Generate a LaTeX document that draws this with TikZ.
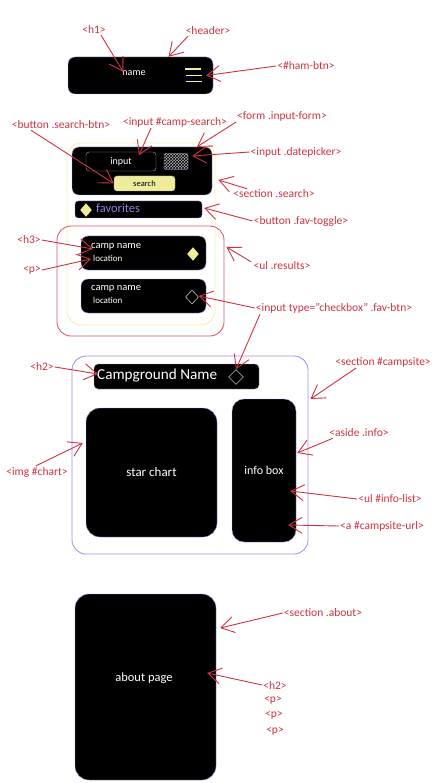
\documentclass[tikz,border=0pt]{standalone}
\usepackage{fontspec}
\setmainfont{Carlito}
\usepackage{xcolor}
\usetikzlibrary{shapes.geometric,arrows.meta,patterns}

\definecolor{tagred}{HTML}{CC3340}
\definecolor{edgepurple}{HTML}{A594E8}
\definecolor{lightyellow}{HTML}{EFEC9C}
\definecolor{paleyellow}{HTML}{F4F0B0}
\definecolor{favpurple}{HTML}{9080E0}

\begin{document}
\begin{tikzpicture}[x=1pt, y=-1pt,
    box/.style={draw=edgepurple, fill=black, rounded corners=7pt, inner sep=0pt, text=white, font=\fontsize{10}{12}\selectfont},
    outline/.style={draw=#1, rounded corners=14pt, inner sep=0pt, line width=0.9pt},
    word/.style={text=white, inner sep=0pt, anchor=west},
    tag/.style={text=tagred, inner sep=1pt, font=\fontsize{11.5}{13}\selectfont},
    arrow/.style={-{Straight Barb[length=13pt,width=16pt]}, draw=tagred, line width=0.9pt},
    hamline/.style={fill=lightyellow, inner sep=0pt, minimum width=16pt, minimum height=1.5pt},
    favon/.style={diamond, draw=lightyellow, fill=lightyellow, inner sep=0pt, minimum width=11pt, minimum height=13pt},
    favoff/.style={diamond, draw=white, inner sep=0pt, minimum width=13pt, minimum height=14pt}
]
\useasboundingbox (0,0) rectangle (435,783);

% Header
\node[box, minimum width=145pt, minimum height=37pt] (header) at (140.5,75.5) {};
\node[text=white, inner sep=0pt, font=\fontsize{10}{12}\selectfont] (name) at (134,73.5) {name};
\node[hamline] (hamtop) at (193,69) {};
\node[hamline] (hammid) at (194,75.5) {};
\node[hamline] (hambot) at (194,81.5) {};

% Search section
\node[outline=paleyellow, minimum width=148pt, minimum height=182pt] (search) at (141,234) {};
\node[box, minimum width=140pt, minimum height=48pt] (form) at (142,171) {};
\node[box, draw=gray!70, rounded corners=3pt, minimum width=70pt, minimum height=19pt] (input) at (121,161.5) {input};
\node[draw=edgepurple, preaction={fill=gray!65}, pattern=crosshatch, pattern color=black, inner sep=0pt, rounded corners=2pt, minimum width=24pt, minimum height=16pt] (datepicker) at (176,161.5) {};
\node[draw=gray!70, fill=lightyellow, rounded corners=3pt, inner sep=0pt, minimum width=61pt, minimum height=15pt, font=\fontsize{8.5}{10}\selectfont] (searchbtn) at (144.5,183.5) {search};
\node[box, rounded corners=3pt, minimum width=127pt, minimum height=17pt] (favtoggle) at (138.5,209.5) {};
\node[favon] (favmark) at (86,210) {};
\node[word, text=favpurple, font=\fontsize{12.5}{14}\selectfont] (favorites) at (96,208.5) {favorites};

% Results
\node[outline=tagred!80, minimum width=167pt, minimum height=110pt] (results) at (140.5,281) {};
\node[box, minimum width=125pt, minimum height=34pt] (cardone) at (143.5,253) {};
\node[word, font=\fontsize{10.5}{12}\selectfont] (campone) at (91,247) {camp name};
\node[word, font=\fontsize{9}{11}\selectfont] (locone) at (93,258) {location};
\node[favon] (markone) at (193,254) {};
\node[box, minimum width=125pt, minimum height=34pt] (cardtwo) at (143.5,296) {};
\node[word, font=\fontsize{10.5}{12}\selectfont] (camptwo) at (91,289) {camp name};
\node[word, font=\fontsize{9}{11}\selectfont] (loctwo) at (93,300) {location};
\node[favoff] (marktwo) at (192,297) {};

% Campsite
\node[outline=edgepurple, minimum width=236pt, minimum height=198pt] (campsite) at (190,455) {};
\node[box, draw=gray!70, rounded corners=4pt, minimum width=165pt, minimum height=25pt] (titlebar) at (176.5,376.5) {};
\node[word, font=\fontsize{15.2}{18}\selectfont] (title) at (97,376) {Campground Name};
\node[favoff, minimum width=15pt, minimum height=15pt] (markthree) at (236,377) {};
\node[box, rounded corners=14pt, minimum width=131pt, minimum height=129pt, font=\fontsize{13}{15}\selectfont] (chart) at (151.5,472.5) {star chart};
\node[box, rounded corners=12pt, minimum width=64pt, minimum height=143pt, font=\fontsize{12}{14}\selectfont] (info) at (264,470.5) {info box};

% About
\node[box, rounded corners=14pt, minimum width=141pt, minimum height=186pt] (about) at (145.5,687) {};
\node[word, anchor=center, font=\fontsize{12.5}{14}\selectfont] (abouttext) at (144,678) {about page};

% Tags
\node[tag] (tagtitle) at (94,30) {<h1>};
\node[tag] (tagheader) at (208,31) {<header>};
\node[tag] (tagham) at (306,66) {<\#ham-btn>};
\node[tag] (tagform) at (282,116) {<form .input-form>};
\node[tag] (tagcamp) at (175,122) {<input \#camp-search>};
\node[tag] (tagsearchbtn) at (61,125) {<button .search-btn>};
\node[tag] (tagdate) at (296,152) {<input .datepicker>};
\node[tag] (tagsearch) at (274,194) {<section .search>};
\node[tag] (tagfav) at (301,221) {<button .fav-toggle>};
\node[tag] (tagthree) at (29,240) {<h3>};
\node[tag] (tagloc) at (32,270) {<p>};
\node[tag] (tagresults) at (282,266) {<ul .results>};
\node[tag] (tagcheck) at (334,308) {<input type="checkbox" .fav-btn>};
\node[tag] (tagtwo) at (42,367) {<h2>};
\node[tag] (tagcampsite) at (383,362) {<section \#campsite>};
\node[tag] (tagaside) at (359,433) {<aside .info>};
\node[tag] (tagchart) at (37,472) {<img \#chart>};
\node[tag] (taglist) at (390,499) {<ul \#info-list>};
\node[tag] (tagurl) at (382,526) {<a \#campsite-url>};
\node[tag] (tagabout) at (323,613) {<section .about>};
\node[tag] (tagaboutone) at (275,685) {<h2>};
\node[tag] (tagabouttwo) at (273,700) {<p>};
\node[tag] (tagaboutthree) at (274,715) {<p>};
\node[tag] (tagaboutfour) at (275,731) {<p>};

% Arrows
\draw[arrow] ([xshift=7pt]tagtitle.south) -- ([xshift=1pt,yshift=-1pt]name.north west);
\draw[arrow] ([xshift=-20pt]tagheader.south) -- ([xshift=28pt]header.north);
\draw[arrow] (tagham.west) -- ([xshift=4pt]hammid.east);
\draw[arrow] ([xshift=-24pt]tagcamp.south) -- ([xshift=18pt,yshift=16pt]input.south);
\draw[arrow] ([xshift=-46pt]tagform.south) -- ([xshift=55pt]form.north);
\draw[arrow] ([xshift=-30pt]tagsearchbtn.south) -- (searchbtn.west);
\draw[arrow] (tagdate.west) -- ([xshift=4pt,yshift=5.5pt]datepicker.east);
\draw[arrow] ([xshift=-27pt]tagsearch.north) -- ([xshift=3pt,yshift=54pt]search.east);
\draw[arrow] (tagfav.west) -- ([xshift=2pt,yshift=1.5pt]favtoggle.east);
\draw[arrow] (tagthree.east) -- ([xshift=2pt,yshift=-2pt]campone.west);
\draw[arrow] (tagloc.east) -- ([xshift=-2pt,yshift=-1pt]locone.west);
\draw[arrow] ([xshift=-31pt,yshift=-1pt]tagresults.north) -- ([xshift=2pt,yshift=34pt]results.east);
\draw[arrow] (tagcheck.west) -- ([yshift=1pt]marktwo.east);
\draw[arrow] ([xshift=-74pt]tagcheck.south) -- (markthree.north);
\draw[arrow] (tagtwo.east) -- ([xshift=1pt,yshift=2pt]title.west);
\draw[arrow] ([xshift=-27pt]tagcampsite.south) -- ([xshift=2pt,yshift=56pt]campsite.east);
\draw[arrow] ([xshift=-26pt]tagaside.south) -- ([xshift=1pt,yshift=17.5pt]info.east);
\draw[arrow] ([xshift=-1pt]tagchart.north) -- ([xshift=-3pt,yshift=29.5pt]chart.west);
\draw[arrow] (taglist.west) -- ([xshift=-6pt,yshift=-20.5pt]info.east);
\draw[arrow] (tagurl.west) -- ([xshift=-8pt,yshift=-54.5pt]info.east);
\draw[arrow] (tagabout.west) -- ([xshift=4pt,yshift=59pt]about.east);
\draw[arrow] (tagaboutone.west) -- ([xshift=-9pt,yshift=14pt]about.east);

\end{tikzpicture}
\end{document}
